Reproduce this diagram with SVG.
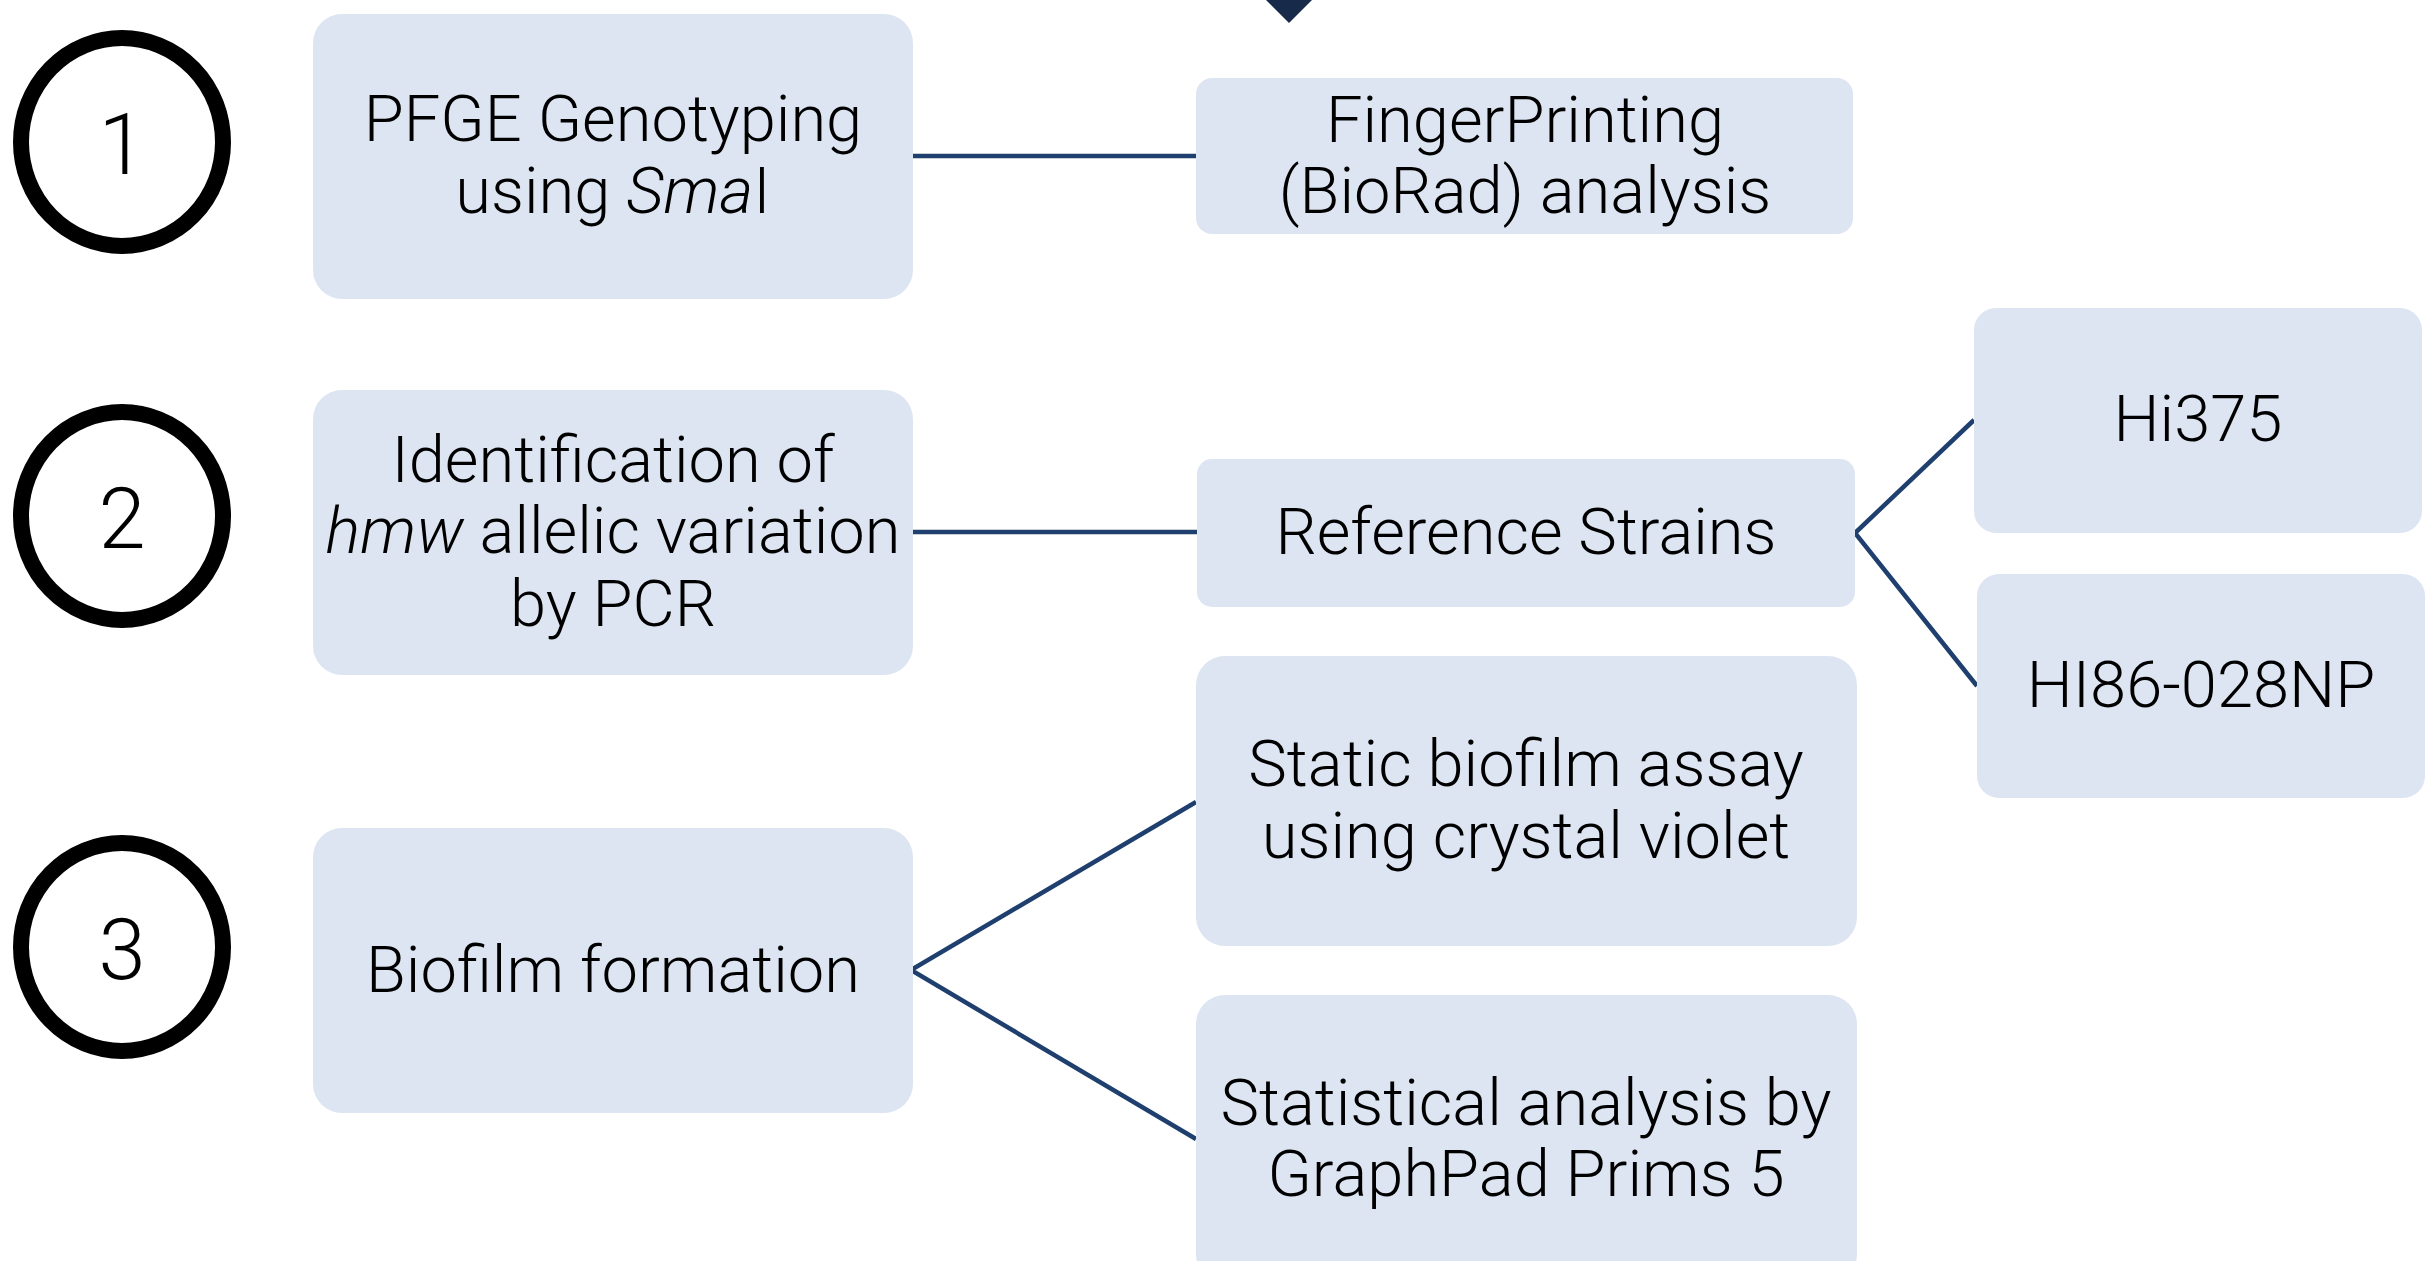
<svg xmlns="http://www.w3.org/2000/svg" width="2427" height="1261" viewBox="0 0 2427 1261">
  <style>
    .box { fill: #DCE5F1; }
    .step { fill: none; stroke: #000000; stroke-width: 16; }
    .num { font-family: Roboto, "Liberation Sans", Arial, sans-serif; font-weight: 300; font-size: 85px; fill: #000000; text-anchor: middle; }
    .lbl { font-family: Roboto, "Liberation Sans", Arial, sans-serif; font-weight: 300; font-size: 65px; fill: #000000; text-anchor: middle; }
    .link { stroke: #1F3F6E; stroke-width: 4.5; fill: none; }
    .head { fill: #172A4A; }
  </style>

  <rect width="2427" height="1261" fill="#FFFFFF"/>

  <!-- connectors -->
  <g id="connectors">
    <polygon class="head" points="1262,-4 1316,-4 1289,23"/>
    <line class="link" x1="913" y1="156" x2="1196" y2="156"/>
    <line class="link" x1="913" y1="532" x2="1197" y2="532"/>
    <polyline class="link" points="1974,420 1855,533 1977,686"/>
    <polyline class="link" points="1196,802 911,970 1196,1139"/>
  </g>

  <!-- numbered step markers -->
  <g id="step-1">
    <ellipse class="step" cx="122" cy="142" rx="101" ry="104"/>
    <text class="num" x="122" y="174">1</text>
  </g>
  <g id="step-2">
    <ellipse class="step" cx="122" cy="516" rx="101" ry="104"/>
    <text class="num" x="122" y="548">2</text>
  </g>
  <g id="step-3">
    <ellipse class="step" cx="122" cy="947" rx="101" ry="104"/>
    <text class="num" x="122" y="979">3</text>
  </g>

  <!-- step 1 -->
  <g id="pfge">
    <rect class="box" x="313" y="14" width="600" height="285" rx="29" ry="29"/>
    <text class="lbl" x="613" y="141">PFGE Genotyping</text>
    <text class="lbl" x="613" y="213">using <tspan font-style="italic">Sma</tspan>I</text>
  </g>
  <g id="fingerprinting">
    <rect class="box" x="1196" y="78" width="657" height="156" rx="16" ry="16"/>
    <text class="lbl" x="1525" y="142">FingerPrinting</text>
    <text class="lbl" x="1525" y="213">(BioRad) analysis</text>
  </g>

  <!-- step 2 -->
  <g id="hmw-pcr">
    <rect class="box" x="313" y="390" width="600" height="285" rx="29" ry="29"/>
    <text class="lbl" x="613" y="482">Identification of</text>
    <text class="lbl" x="613" y="553"><tspan font-style="italic">hmw</tspan> allelic variation</text>
    <text class="lbl" x="613" y="626">by PCR</text>
  </g>
  <g id="reference-strains">
    <rect class="box" x="1197" y="459" width="658" height="148" rx="15" ry="15"/>
    <text class="lbl" x="1526" y="554">Reference Strains</text>
  </g>
  <g id="hi375">
    <rect class="box" x="1974" y="308" width="448" height="225" rx="22" ry="22"/>
    <text class="lbl" x="2198" y="441">Hi375</text>
  </g>
  <g id="hi86-028np">
    <rect class="box" x="1977" y="574" width="448" height="224" rx="22" ry="22"/>
    <text class="lbl" x="2201" y="707">HI86-028NP</text>
  </g>

  <!-- step 3 -->
  <g id="biofilm-formation">
    <rect class="box" x="313" y="828" width="600" height="285" rx="29" ry="29"/>
    <text class="lbl" x="613" y="992">Biofilm formation</text>
  </g>
  <g id="static-assay">
    <rect class="box" x="1196" y="656" width="661" height="290" rx="29" ry="29"/>
    <text class="lbl" x="1526" y="786">Static biofilm assay</text>
    <text class="lbl" x="1526" y="858">using crystal violet</text>
  </g>
  <g id="statistics">
    <rect class="box" x="1196" y="995" width="661" height="288" rx="29" ry="29"/>
    <text class="lbl" x="1526" y="1125">Statistical analysis by</text>
    <text class="lbl" x="1526" y="1196">GraphPad Prims 5</text>
  </g>
</svg>
